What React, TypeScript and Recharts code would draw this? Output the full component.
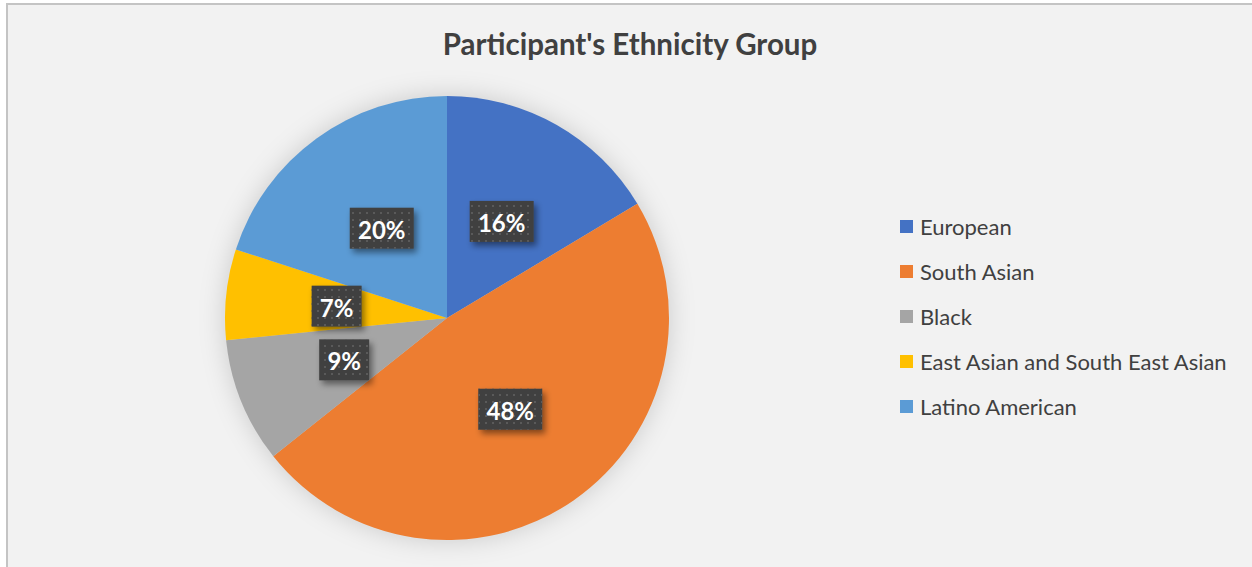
import React from 'react';
import { PieChart, Pie, Cell, Legend } from 'recharts';

const categories = ['European', 'South Asian', 'Black', 'East Asian and South East Asian', 'Latino American'];
const shares = [16.4, 47.9, 9.1, 6.6, 20.0];
const colors = ['#4472C4', '#ED7D31', '#A5A5A5', '#FFC000', '#5B9BD5'];
const title = "Participant's Ethnicity Group";

const data = categories.map((name, i) => ({ name, value: shares[i] }));
const shadowData = [{ name: 'shadow', value: 1 }];

const W = 1252;
const H = 567;
const CX = 447;
const CY = 318;
const R = 222;
const FONT = 'Lato, "Open Sans", sans-serif';

const RAD = Math.PI / 180;

const renderLabel = (props: any) => {
  const { cx, cy, midAngle, outerRadius, percent } = props;
  const r = outerRadius * 0.5;
  const x = cx + r * Math.cos(-midAngle * RAD);
  const y = cy + r * Math.sin(-midAngle * RAD);
  const txt = `${Math.round(percent * 100)}%`;
  const w = txt.length === 3 ? 64 : 50;
  const h = 41;
  return (
    <g>
      <rect x={x - w / 2} y={y - h / 2} width={w} height={h} fill="#404040" filter="url(#lblShadow)" />
      <rect x={x - w / 2} y={y - h / 2} width={w} height={h} fill="url(#dots)" />
      <text
        x={x}
        y={y + 1}
        textAnchor="middle"
        dominantBaseline="central"
        fill="#ffffff"
        fontFamily={FONT}
        fontWeight={700}
        fontSize={24}
      >
        {txt}
      </text>
    </g>
  );
};

const renderLegend = () => (
  <div style={{ fontFamily: FONT, fontSize: 22, color: '#404040' }}>
    {categories.map((c, i) => (
      <div key={c} style={{ display: 'flex', alignItems: 'center', height: 45, whiteSpace: 'nowrap' }}>
        <span style={{ display: 'inline-block', width: 13, height: 13, background: colors[i], marginRight: 7 }} />
        <span>{c}</span>
      </div>
    ))}
  </div>
);

export default function App() {
  return (
    <div style={{ position: 'absolute', left: 0, top: 0, width: W, height: H, overflow: 'hidden', background: '#ffffff' }}>
      <style>{`.shadow-pie .recharts-sector { filter: blur(13px); }`}</style>
      <svg width={0} height={0} style={{ position: 'absolute' }}>
        <defs>
          <pattern id="dots" x={0} y={0} width={7} height={7} patternUnits="userSpaceOnUse">
            <rect x={2} y={2} width={2} height={2} fill="#5a5a5a" />
          </pattern>
          <filter id="lblShadow" x="-30%" y="-30%" width="170%" height="180%">
            <feDropShadow dx={3} dy={4} stdDeviation={3} floodColor="#000" floodOpacity={0.45} />
          </filter>
        </defs>
      </svg>
      <div
        style={{
          position: 'absolute',
          left: 6,
          top: 3,
          width: W,
          height: H,
          background: '#f2f2f2',
          borderTop: '2px solid #c4c4c4',
          borderLeft: '2px solid #c4c4c4',
        }}
      />
      <div
        style={{
          position: 'absolute',
          left: 330,
          top: 27,
          width: 600,
          textAlign: 'center',
          fontFamily: FONT,
          fontWeight: 700,
          fontSize: 29.5,
          lineHeight: '34px',
          color: '#404040',
        }}
      >
        {title}
      </div>
      <div style={{ position: 'absolute', left: 0, top: 0 }}>
        <PieChart width={W} height={H} margin={{ top: 0, right: 0, bottom: 0, left: 0 }}>
          <Pie
            className="shadow-pie"
            data={shadowData}
            dataKey="value"
            cx={CX}
            cy={CY}
            outerRadius={R}
            startAngle={90}
            endAngle={-270}
            fill="#000000"
            fillOpacity={0.16}
            stroke="none"
            legendType="none"
            isAnimationActive={false}
          />
          <Pie
            data={data}
            dataKey="value"
            nameKey="name"
            cx={CX}
            cy={CY}
            outerRadius={R}
            startAngle={90}
            endAngle={-270}
            stroke="none"
            label={renderLabel}
            labelLine={false}
            isAnimationActive={false}
          >
            {data.map((d, i) => (
              <Cell key={d.name} fill={colors[i]} />
            ))}
          </Pie>
          <Legend
            layout="vertical"
            verticalAlign="top"
            align="right"
            content={renderLegend}
            wrapperStyle={{ position: 'absolute', left: 900, top: 204, width: 345 }}
          />
        </PieChart>
      </div>
    </div>
  );
}
